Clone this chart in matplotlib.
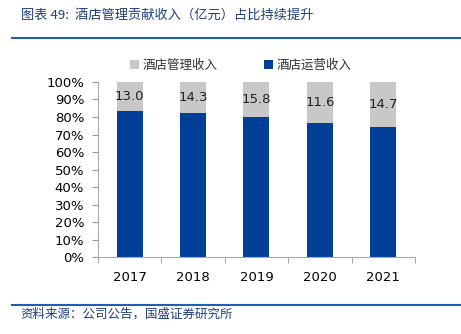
import matplotlib
matplotlib.use("Agg")
from matplotlib import pyplot as plt
import numpy as np

plt.rcParams['font.family'] = ['DejaVu Sans', 'Noto Sans CJK SC']

years = ["2017", "2018", "2019", "2020", "2021"]
mgmt_rev = [13.0, 14.3, 15.8, 11.6, 14.7]          # 酒店管理收入 (亿元), labels
oper_share = [83.4, 82.1, 79.8, 76.8, 74.5]         # 酒店运营收入 占比 %
mgmt_share = [100 - v for v in oper_share]

blue = "#003F98"
gray = "#C8C8C8"
txt_blue = "#1F3F7F"
cjk = ['Noto Sans CJK SC', 'DejaVu Sans']

fig = plt.figure(figsize=(4.61, 3.34), dpi=100)
ax = fig.add_axes([0.2126, 0.2305, 0.6874, 0.524])

x = np.arange(len(years))
b1 = ax.bar(x, oper_share, width=0.41, color=blue, label="酒店运营收入")
b2 = ax.bar(x, mgmt_share, width=0.41, bottom=oper_share, color=gray, label="酒店管理收入")

for i, v in enumerate(mgmt_rev):
    ax.text(x[i], oper_share[i] + mgmt_share[i] / 2, f"{v:.1f}", ha="center", va="center",
            fontsize=9.5, color="#222222")

ax.set_xlim(-0.5, len(years) - 0.5)
ax.set_ylim(0, 100)
ax.set_yticks(np.arange(0, 101, 10))
ax.set_yticklabels([f"{t}%" for t in range(0, 101, 10)], fontsize=9.5)
ax.set_xticks(x)
ax.set_xticklabels(years, fontsize=9.5)
ax.set_xticks(np.arange(-0.5, len(years)), minor=True)
ax.tick_params(axis="x", which="major", length=0, pad=10)
ax.tick_params(axis="x", which="minor", length=4, color="#999999")
ax.tick_params(axis="y", length=4, color="#999999", pad=6)
for s in ["top", "right"]:
    ax.spines[s].set_visible(False)
ax.spines["left"].set_color("#AAAAAA")
ax.spines["bottom"].set_color("#AAAAAA")

leg = fig.legend(handles=[b2, b1], labels=["酒店管理收入", "酒店运营收入"], loc="center",
                 bbox_to_anchor=(0.523, 0.805), ncol=2, frameon=False, prop={'family': cjk, 'size': 9},
                 handlelength=0.7, handleheight=0.7, handletextpad=0.3, columnspacing=3.7)
for t in leg.get_texts():
    t.set_color("#333333")

fig.text(0.045, 0.955, "图表 49:  酒店管理贡献收入（亿元）占比持续提升", family=cjk, fontsize=9.5,
         color=txt_blue, style="italic", va="center")
fig.add_artist(plt.Line2D([0.026, 1.0], [0.885, 0.885], color="#1F5FAF", lw=1.5))
fig.add_artist(plt.Line2D([0.026, 1.0], [0.087, 0.087], color="#1F5FAF", lw=1.5))
fig.text(0.045, 0.058, "资料来源：公司公告，国盛证券研究所", family=cjk, fontsize=9,
         color=txt_blue, style="italic", va="center")

fig.savefig("out.png", dpi=100)
